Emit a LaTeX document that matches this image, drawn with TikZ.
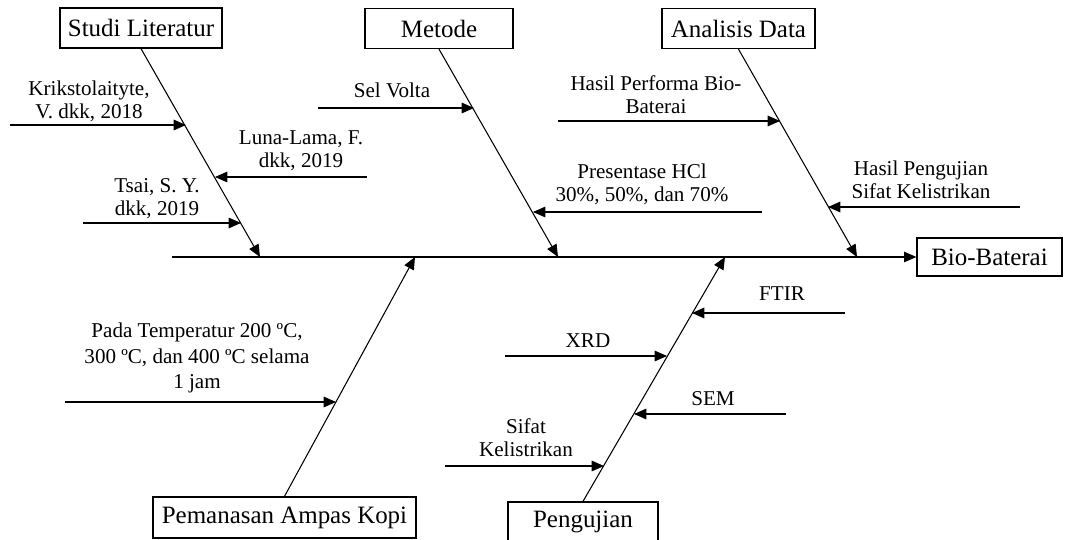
\documentclass[tikz,border=0pt]{standalone}
\usepackage{fontspec}
\setmainfont{Liberation Serif}
\usetikzlibrary{arrows.meta}

\tikzstyle{block} = [rectangle, draw, line width=0.75pt,
    text centered, minimum height=0.8cm, font=\fontsize{14.2}{16}\selectfont]
\tikzstyle{line} = [draw, line width=0.6pt, -{Triangle[length=7pt,width=6pt]}]
\tikzstyle{cause} = [align=center, inner sep=0pt, font=\fontsize{12}{13.2}\selectfont]

\begin{document}
\begin{tikzpicture}[x=0.02cm, y=-0.02cm]
    \useasboundingbox (0,0) rectangle (1065,540);

    \node [block, minimum width=3.24cm] (Studi) at (141,28) {Studi Literatur};
    \node [block, minimum width=2.96cm] (Metode) at (439,28.5) {Metode};
    \node [block, minimum width=3.06cm] (Analisis) at (738.5,28.5) {Analisis Data};
    \node [block, minimum width=2.9cm, minimum height=0.76cm] (Bio) at (989.5,257) {Bio-Baterai};
    \node [block, minimum width=5.26cm, minimum height=0.82cm] (Pemanasan) at (284.5,517.5) {Pemanasan Ampas Kopi};
    \node [block, minimum width=3.0cm] (Pengujian) at (583,522) {Pengujian};

    \coordinate (Tail) at (172,257);
    \coordinate (StudiHead) at (260,257);
    \coordinate (MetodeHead) at (558,257);
    \coordinate (AnalisisHead) at (857,257);
    \coordinate (PemanasanHead) at (415,257);
    \coordinate (PengujianHead) at (725,257);

    \path [line] (Tail) -- (Bio.west);
    \path [line] (Studi.south) -- (StudiHead);
    \path [line] (Metode.south) -- (MetodeHead);
    \path [line] (Analisis.south) -- (AnalisisHead);
    \path [line] (Pemanasan.north) -- (PemanasanHead);
    \path [line] (Pengujian.north) -- (PengujianHead);

    \node [cause] (Krik) at (89,101) {Krikstolaityte,\\V. dkk, 2018};
    \node [cause] (Luna) at (301,151) {Luna-Lama, F.\\dkk, 2019};
    \node [cause] (Tsai) at (157,199) {Tsai, S. Y.\\dkk, 2019};
    \node [cause] (Volta) at (392,90) {Sel Volta};
    \node [cause] (Performa) at (656,95) {Hasil Performa Bio-\\Baterai};
    \node [cause] (HCl) at (642,184) {Presentase HCl\\30\%, 50\%, dan 70\%};
    \node [cause] (Listrik) at (921,180) {Hasil Pengujian\\Sifat Kelistrikan};
    \node [cause, font=\fontsize{12}{14.5}\selectfont] (Suhu) at (197,358) {Pada Temperatur 200 ºC,\\300 ºC, dan 400 ºC selama\\1 jam};
    \node [cause] (FTIR) at (782,294) {FTIR};
    \node [cause] (XRD) at (588,341) {XRD};
    \node [cause] (SEM) at (713,399) {SEM};
    \node [cause] (Sifat) at (526,438) {Sifat\\Kelistrikan};

    \coordinate (KrikTail) at (10,125);      \coordinate (KrikHead) at (186,125);
    \coordinate (LunaTail) at (367,177);     \coordinate (LunaHead) at (215,177);
    \coordinate (TsaiTail) at (83,223);      \coordinate (TsaiHead) at (241,223);
    \coordinate (VoltaTail) at (318,108);    \coordinate (VoltaHead) at (474,108);
    \coordinate (PerformaTail) at (558,121); \coordinate (PerformaHead) at (780,121);
    \coordinate (HClTail) at (762,212);      \coordinate (HClHead) at (533,212);
    \coordinate (ListrikTail) at (1020,207); \coordinate (ListrikHead) at (828,207);
    \coordinate (SuhuTail) at (65,402);      \coordinate (SuhuHead) at (336,402);
    \coordinate (FTIRTail) at (845,313);     \coordinate (FTIRHead) at (692,313);
    \coordinate (XRDTail) at (505,356);      \coordinate (XRDHead) at (667,356);
    \coordinate (SEMTail) at (786,414);      \coordinate (SEMHead) at (634,414);
    \coordinate (SifatTail) at (445,466);    \coordinate (SifatHead) at (604,466);

    \path [line] (KrikTail) -- (KrikHead);
    \path [line] (LunaTail) -- (LunaHead);
    \path [line] (TsaiTail) -- (TsaiHead);
    \path [line] (VoltaTail) -- (VoltaHead);
    \path [line] (PerformaTail) -- (PerformaHead);
    \path [line] (HClTail) -- (HClHead);
    \path [line] (ListrikTail) -- (ListrikHead);
    \path [line] (SuhuTail) -- (SuhuHead);
    \path [line] (FTIRTail) -- (FTIRHead);
    \path [line] (XRDTail) -- (XRDHead);
    \path [line] (SEMTail) -- (SEMHead);
    \path [line] (SifatTail) -- (SifatHead);
\end{tikzpicture}
\end{document}
